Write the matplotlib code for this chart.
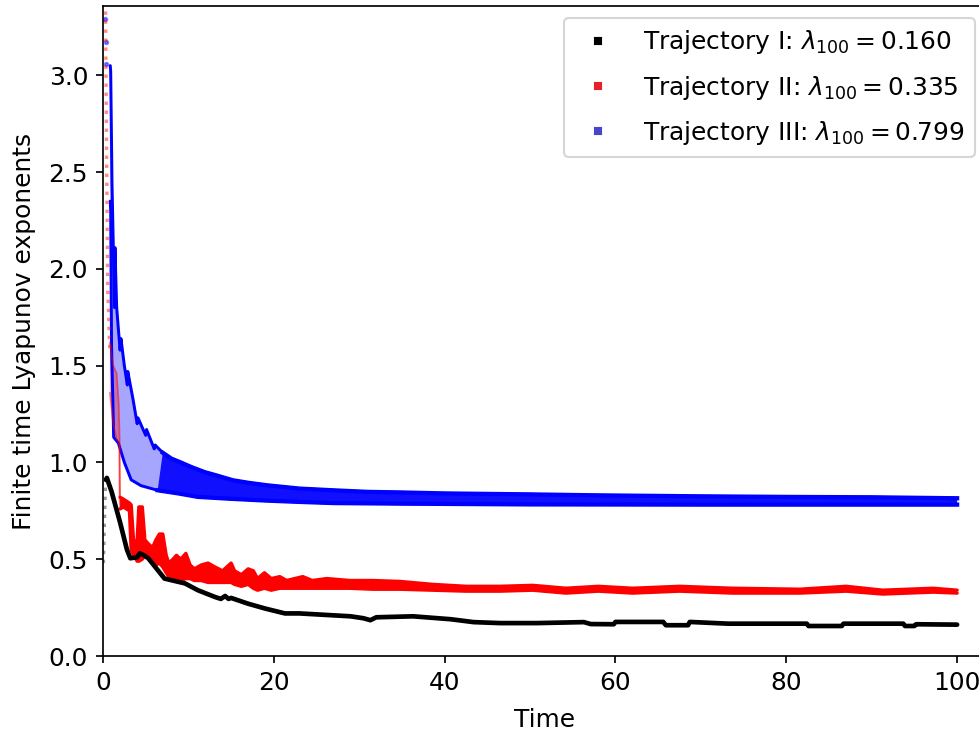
import numpy as np
import matplotlib
matplotlib.use("Agg")
import matplotlib.pyplot as plt
from matplotlib.lines import Line2D

plt.rcParams["font.size"] = 11.7

# ---- data ----
# Trajectory I (black)
t_black = [0.35, 0.45, 1.0, 2.0, 2.8, 3.2, 4.0, 4.3, 4.8, 5.3, 7.2, 9.6, 11.1, 13.1,
           13.8, 14.3, 14.7, 15.0, 17.0, 19.0, 21.3, 23.0, 27.0, 29.0, 30.5, 31.3,
           32.0, 36.3, 40.7, 43.4, 46.5, 50.8, 56.3, 57.1, 59.8, 60.0, 65.6, 65.9,
           68.5, 68.7, 73.2, 82.4, 82.6, 86.5, 86.7, 93.7, 93.9, 95.0, 95.2, 100.0]
v_black = [0.91, 0.92, 0.85, 0.69, 0.55, 0.505, 0.51, 0.53, 0.52, 0.505, 0.40, 0.375,
           0.34, 0.305, 0.295, 0.31, 0.295, 0.30, 0.27, 0.245, 0.22, 0.22, 0.21, 0.205,
           0.195, 0.185, 0.20, 0.205, 0.19, 0.175, 0.17, 0.17, 0.175, 0.165, 0.164,
           0.176, 0.176, 0.159, 0.159, 0.176, 0.167, 0.167, 0.155, 0.155, 0.167, 0.167,
           0.155, 0.155, 0.164, 0.162]
t_black_start = [0.05, 0.15, 0.3]
v_black_start = [0.48, 0.68, 0.90]

# Trajectory II (red): early sparse column, pale band, main band envelopes
t_red_start = [0.3, 0.42, 0.55, 0.8]
v_red_start = [3.33, 2.60, 1.90, 1.58]
t_red_early_up = [0.8, 1.2, 1.6, 1.85, 1.95, 2.0]
v_red_early_up = [1.62, 1.50, 1.46, 1.30, 1.12, 0.83]
t_red_early_lo = [0.8, 1.2, 1.6, 1.9, 1.95, 2.0]
v_red_early_lo = [1.36, 1.20, 1.12, 1.10, 0.80, 0.77]

t_red = [2.0, 2.4, 3.1, 3.3, 3.6, 4.0, 4.2, 4.6, 4.9, 5.3, 5.8, 6.2, 6.6, 7.0, 7.4,
         7.7, 8.2, 8.6, 9.1, 9.7, 10.2, 10.7, 11.5, 12.3, 13.1, 14.0, 15.0, 15.4,
         16.2, 17.0, 17.6, 18.1, 18.9, 19.7, 20.7, 21.5, 23.4, 24.5, 26.2, 28.9,
         31.6, 34.8, 38.6, 42.5, 46.5, 50.3, 54.2, 58.0, 62.0, 67.5, 73.7, 81.6,
         87.0, 91.3, 97.2, 100.0]
red_up = [0.82, 0.81, 0.79, 0.78, 0.58, 0.60, 0.77, 0.77, 0.60, 0.58, 0.56, 0.60,
          0.63, 0.63, 0.52, 0.48, 0.50, 0.52, 0.50, 0.53, 0.47, 0.45, 0.47, 0.48,
          0.46, 0.44, 0.48, 0.44, 0.42, 0.45, 0.44, 0.40, 0.43, 0.40, 0.41, 0.39,
          0.41, 0.39, 0.40, 0.39, 0.39, 0.385, 0.37, 0.36, 0.36, 0.365, 0.35, 0.36,
          0.35, 0.36, 0.35, 0.345, 0.36, 0.34, 0.35, 0.34]
red_lo = [0.76, 0.77, 0.75, 0.55, 0.52, 0.49, 0.49, 0.50, 0.52, 0.52, 0.50, 0.47,
          0.48, 0.46, 0.43, 0.41, 0.41, 0.40, 0.39, 0.40, 0.40, 0.39, 0.39, 0.38,
          0.38, 0.38, 0.38, 0.37, 0.36, 0.37, 0.35, 0.34, 0.35, 0.34, 0.35, 0.35,
          0.35, 0.35, 0.35, 0.35, 0.345, 0.345, 0.34, 0.335, 0.335, 0.34, 0.325,
          0.335, 0.325, 0.335, 0.325, 0.325, 0.335, 0.32, 0.33, 0.325]

# Trajectory III (blue)
t_blue_start = [0.25, 0.32, 0.4]
v_blue_start = [3.29, 3.17, 3.06]
t_blue_up = [0.85, 0.9, 1.05, 1.35, 1.4, 1.6, 2.0, 2.1, 2.5, 2.85, 2.9, 3.5, 4.0,
             4.1, 5.0, 5.1, 6.0, 6.1, 7.0, 8.0, 9.1, 10.3, 11.9, 13.2, 15.2, 17.0,
             19.2, 23.0, 27.0, 31.0, 35.0, 40.0, 50.0, 58.0, 70.0, 80.0, 90.0, 100.0]
v_blue_up = [3.05, 3.02, 2.45, 1.80, 2.11, 1.80, 1.58, 1.64, 1.50, 1.40, 1.47, 1.33,
             1.20, 1.23, 1.14, 1.17, 1.07, 1.09, 1.05, 1.02, 1.00, 0.977, 0.95, 0.934,
             0.908, 0.895, 0.882, 0.865, 0.856, 0.848, 0.845, 0.84, 0.835, 0.83,
             0.825, 0.822, 0.82, 0.815]
t_blue_lo = [0.85, 0.9, 1.0, 1.25, 1.8, 2.5, 3.3, 4.45, 6.4, 8.8, 11.1, 15.0, 19.0,
             23.0, 27.0, 35.0, 50.0, 70.0, 100.0]
v_blue_lo = [2.35, 2.30, 1.60, 1.13, 1.10, 1.00, 0.91, 0.88, 0.856, 0.84, 0.822,
             0.812, 0.803, 0.796, 0.79, 0.787, 0.783, 0.782, 0.782]

labels = [r"Trajectory I: $\lambda_{100} = 0.160$",
          r"Trajectory II: $\lambda_{100} = 0.335$",
          r"Trajectory III: $\lambda_{100} = 0.799$"]
legend_colors = ["black", "#e8202a", "#4646c8"]


def band(ax, tu, vu, tl, vl, color, alpha, lw, edge_alpha=1.0):
    xs = np.r_[tu, tl[::-1]]
    ys = np.r_[vu, vl[::-1]]
    ax.fill(xs, ys, color=color, alpha=alpha, lw=0)
    ax.plot(tu, vu, color=color, lw=lw, alpha=edge_alpha, solid_capstyle="round")
    ax.plot(tl, vl, color=color, lw=lw, alpha=edge_alpha, solid_capstyle="round")


fig = plt.figure(figsize=(979 / 153, 733 / 153), dpi=153)
ax = fig.add_axes([103 / 979, 77 / 733, 884 / 979, 650 / 733])

# blue
tbu, vbu = np.array(t_blue_up), np.array(v_blue_up)
tbl, vbl = np.array(t_blue_lo), np.array(v_blue_lo)
ax.plot(t_blue_start, v_blue_start, ls="", marker="o", ms=1.6, color="blue", alpha=0.45)
band(ax, tbu, vbu, tbl, vbl, "blue", 0.35, 1.4)
mu, ml = tbu >= 7.0, tbl >= 6.4
ax.fill(np.r_[tbu[mu], tbl[ml][::-1]], np.r_[vbu[mu], vbl[ml][::-1]],
        color="blue", alpha=0.9, lw=0)
ax.plot(tbu[mu], vbu[mu], color="blue", lw=2.0)
ax.plot(tbl[ml], vbl[ml], color="blue", lw=2.0)

# red
ax.plot(t_red_start, v_red_start, ls=":", lw=1.6, color="red", alpha=0.45)
band(ax, np.array(t_red_early_up), np.array(v_red_early_up),
     np.array(t_red_early_lo), np.array(v_red_early_lo), "red", 0.3, 0.8, 0.5)
band(ax, np.array(t_red), np.array(red_up), np.array(t_red), np.array(red_lo),
     "red", 1.0, 1.6)

# black
ax.plot(t_black_start, v_black_start, ls=":", lw=1.6, color="black", alpha=0.4)
ax.plot(t_black, v_black, color="black", lw=2.2, solid_capstyle="round",
        solid_joinstyle="round")

ax.set_xlim(0, 103.5)
ax.set_ylim(0, 3.358)
ax.set_xlabel("Time", labelpad=6)
ax.set_ylabel("Finite time Lyapunov exponents", labelpad=6)

handles = [Line2D([], [], ls="", marker="s", ms=3, color=c) for c in legend_colors]
ax.legend(handles, labels, loc="upper right", labelspacing=0.7)

fig.savefig("out.png", dpi=153)
